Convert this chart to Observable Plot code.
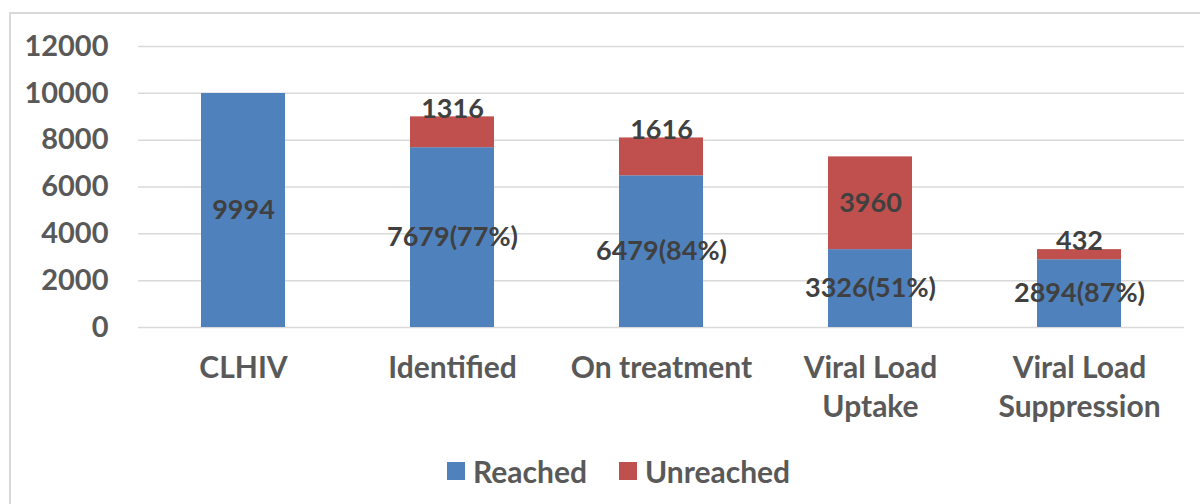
<!DOCTYPE html>
<html><head><meta charset="utf-8">
<script src="https://cdn.jsdelivr.net/npm/d3@7"></script>
<script src="https://cdn.jsdelivr.net/npm/@observablehq/plot@0.6"></script>
<style>
body{margin:0;background:#fff;width:1200px;height:504px;overflow:hidden;position:relative;}
#frame{position:absolute;left:9px;top:12px;width:1200px;height:520px;border:2px solid #d9d9d9;box-sizing:border-box;}
#chart{position:absolute;left:0;top:0;}
#legend{position:absolute;left:447px;top:452px;height:38px;display:flex;align-items:center;font-family:Lato,"Open Sans",sans-serif;font-weight:bold;font-size:30px;color:#595959;}
#legend .sw{display:inline-block;width:18px;height:18px;margin-right:8px;}
#legend .item{display:flex;align-items:center;margin-right:32px;}
</style></head>
<body>
<div id="frame"></div>
<div id="chart"></div>
<div id="legend"></div>
<script>
const categories = ["CLHIV", "Identified", "On treatment", "Viral Load Uptake", "Viral Load Suppression"];
const categoryLabels = ["CLHIV", "Identified", "On treatment", "Viral Load\nUptake", "Viral Load\nSuppression"];
const seriesNames = ["Reached", "Unreached"];
const seriesColors = ["#4F81BD", "#C0504D"];
const reached = [9994, 7679, 6479, 3326, 2894];
const unreached = [0, 1316, 1616, 3960, 432];
const yTicks = [0, 2000, 4000, 6000, 8000, 10000, 12000];

const FONT = 'Lato,"Open Sans",sans-serif';

const rows = [];
categories.forEach((c, i) => {
  rows.push({category: c, series: seriesNames[0], value: reached[i]});
  rows.push({category: c, series: seriesNames[1], value: unreached[i]});
});

// reached labels: value and share of the previous stage, centred in the segment
const reachedLabels = categories.map((c, i) => ({
  category: c,
  y: reached[i] / 2,
  text: i === 0 ? String(reached[i]) : `${reached[i]}(${Math.round(reached[i] / reached[i - 1] * 100)}%)`
}));
// unreached labels: centred when the segment is tall, at the top otherwise
const unreachedLabels = categories.map((c, i) => ({
  category: c,
  value: unreached[i],
  small: unreached[i] < 2000,
  y: unreached[i] < 2000 ? reached[i] + unreached[i] : reached[i] + unreached[i] / 2,
  text: String(unreached[i])
})).filter(d => d.value > 0);

const labelMap = new Map(categories.map((c, i) => [c, categoryLabels[i]]));
const labelStyle = {fontSize: 27, fontWeight: "bold", fill: "#404040"};

const chart = Plot.plot({
  width: 1200,
  height: 440,
  marginLeft: 138,
  marginRight: 16,
  marginTop: 46,
  marginBottom: 113,
  style: {fontFamily: FONT, color: "#595959", background: "transparent"},
  x: {domain: categories, paddingInner: 0.6, paddingOuter: 0.3, label: null},
  y: {domain: [0, 12000], label: null},
  color: {domain: seriesNames, range: seriesColors},
  marks: [
    Plot.gridY(yTicks, {stroke: "#d9d9d9", strokeOpacity: 1, strokeWidth: 1.5}),
    Plot.barY(rows, {x: "category", y: "value", fill: "series"}),
    Plot.axisY(yTicks, {tickSize: 0, tickPadding: 30, fontSize: 29, fontWeight: "bold", fill: "#595959", label: null, tickFormat: d => String(d)}),
    Plot.axisX({tickSize: 0, tickPadding: 23, fontSize: 30, fontWeight: "bold", fill: "#595959", label: null, lineHeight: 1.3, tickFormat: d => labelMap.get(d)}),
    Plot.text(reachedLabels, {x: "category", y: "y", text: "text", ...labelStyle}),
    Plot.text(unreachedLabels.filter(d => !d.small), {x: "category", y: "y", text: "text", ...labelStyle}),
    Plot.text(unreachedLabels.filter(d => d.small), {x: "category", y: "y", text: "text", ...labelStyle, dy: -8})
  ]
});
document.getElementById("chart").appendChild(chart);

const legend = document.getElementById("legend");
seriesNames.forEach((s, i) => {
  const item = document.createElement("div");
  item.className = "item";
  const sw = document.createElement("span");
  sw.className = "sw";
  sw.style.background = seriesColors[i];
  item.appendChild(sw);
  item.appendChild(document.createTextNode(s));
  legend.appendChild(item);
});
</script>
</body></html>
